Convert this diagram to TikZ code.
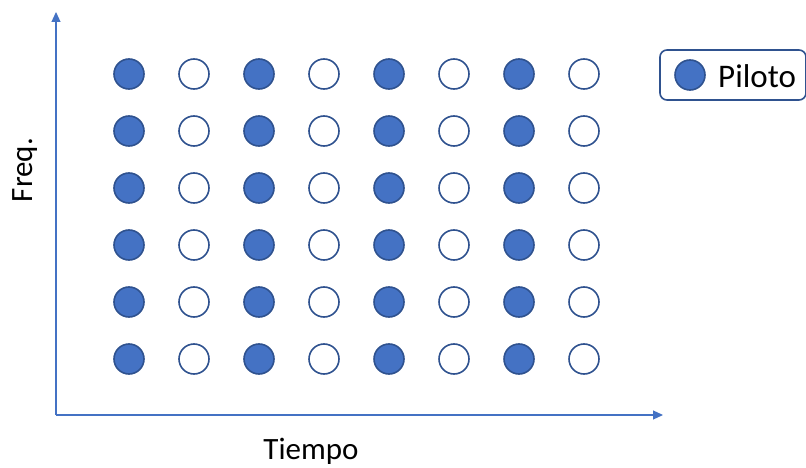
\documentclass[tikz,border=0pt]{standalone}
\usepackage{fontspec}
\setmainfont{Carlito}
\usetikzlibrary{arrows.meta}
\definecolor{pblue}{HTML}{4472C4}
\definecolor{pedge}{HTML}{2F528F}
\begin{document}
\begin{tikzpicture}[x=1pt,y=-1pt,
  dot/.style={circle,draw=pedge,line width=1.6pt,minimum size=30pt,inner sep=0pt},
  pilot/.style={dot,fill=pblue},
  datum/.style={dot,fill=white},
  axis/.style={draw=pblue,line width=1.2pt,-{Triangle[length=10pt,width=9pt]}},
  lbl/.style={font=\fontsize{31}{36}\selectfont,inner sep=0pt}]
\useasboundingbox (0,0) rectangle (806,468);
\coordinate (o) at (56,415);
\coordinate (ytip) at (56,12);
\coordinate (xtip) at (663,415);
\draw[axis] (o) -- (ytip);
\draw[axis] (o) -- (xtip);
\foreach \i in {0,...,7}{
  \foreach \j in {0,...,5}{
    \pgfmathtruncatemacro{\odd}{mod(\i,2)}
    \ifnum\odd=0
      \node[pilot] (c-\i-\j) at (129+65*\i,74+57*\j) {};
    \else
      \node[datum] (c-\i-\j) at (129+65*\i,74+57*\j) {};
    \fi
  }
}
\node[draw=pedge,line width=1.6pt,rounded corners=7pt,minimum width=146pt,minimum height=50pt,inner sep=0pt] (leg) at (733,75) {};
\node[pilot] (legdot) at (690,75) {};
\node[lbl,font=\fontsize{33}{38}\selectfont,anchor=west] (legtxt) at (718,76) {Piloto};
\node[lbl,rotate=90] (freq) at (25,170) {Freq.};
\node[lbl] (tiempo) at (311,451) {Tiempo};
\end{tikzpicture}
\end{document}
